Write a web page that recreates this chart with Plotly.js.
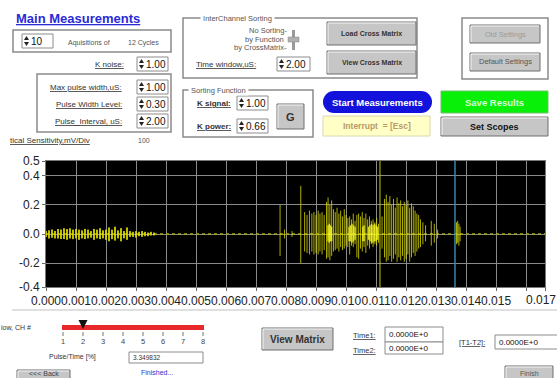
<!DOCTYPE html>
<html><head><meta charset="utf-8">
<script src="https://cdn.plot.ly/plotly-3.0.1.min.js"></script>
<style>html,body{margin:0;padding:0;background:#fff;}#chart{width:557px;height:378px;}</style>
</head><body><div id="chart"></div>
<script>
// ---------- data (time in seconds, amplitude in V) ----------
const xTickVals = [0,0.001,0.002,0.003,0.004,0.005,0.006,0.007,0.008,0.009,0.010,0.011,0.012,0.013,0.014,0.015,0.016,0.01663];
const xTickText = ["0.000","0.001","0.002","0.003","0.004","0.005","0.006","0.007","0.008","0.009","0.010","0.011","0.012","0.013","0.014","0.015","",""];
const xEndLabel = "0.017";
const yTickVals = [0.5,0.4,0.2,0.0,-0.2,-0.363];
const yTickText = ["0.5","0.4","0.2","0.0","-0.2","-0.4"];

// early low-level noise burst
const earlyT  = [0.0000,0.0001,0.0002,0.0003,0.0004,0.0005,0.0006,0.0007,0.0008,0.0009,0.0010,0.0011,0.0012,0.0013,0.0014,0.0015,0.0016,0.0017,0.0018,0.0019,0.0020,0.0021,0.0022,0.0023,0.0024,0.0025,0.0026,0.0027,0.0028,0.0029,0.0030,0.0031,0.0032,0.0033,0.0034,0.0035,0.0036];
const earlyHi = [0.02,0.025,0.03,0.02,0.035,0.03,0.04,0.035,0.04,0.03,0.035,0.03,0.025,0.035,0.03,0.02,0.035,0.03,0.04,0.025,0.03,0.045,0.03,0.05,0.025,0.04,0.02,0.045,0.02,0.015,0.02,0.015,0.02,0.015,0.01,0.015,0.01];
const earlyLo = [-0.02,-0.03,-0.025,-0.03,-0.03,-0.035,-0.035,-0.04,-0.03,-0.035,-0.03,-0.04,-0.03,-0.035,-0.03,-0.025,-0.04,-0.03,-0.035,-0.03,-0.04,-0.05,-0.035,-0.045,-0.03,-0.05,-0.03,-0.04,-0.02,-0.02,-0.025,-0.015,-0.02,-0.015,-0.015,-0.01,-0.01];

// main partial-discharge pulses
const pulseT  = [0.00780,0.00795,0.00820,0.00849,0.00862,0.00870,0.00878,0.00886,0.00893,0.00900,0.00907,0.00913,0.00920,0.00927,0.00935,0.00940,0.00946,0.00952,0.00958,0.00964,0.00970,0.00976,0.00982,0.00988,0.00994,0.01000,0.01006,0.01012,0.01018,0.01024,0.01030,0.01036,0.01042,0.01048,0.01054,0.01060,0.01066,0.01072,0.01078,0.01084,0.01090,0.01096,0.01102,0.01108,0.01120,0.01128,0.01134,0.01140,0.01146,0.01152,0.01158,0.01164,0.01170,0.01176,0.01182,0.01188,0.01194,0.01200,0.01206,0.01212,0.01218,0.01224,0.01230,0.01236,0.01242,0.01248,0.01256,0.01265,0.01284,0.01294,0.01305,0.01368,0.01372,0.01376,0.01380];
const pulseHi = [0.20,0.03,0.02,0.33,0.15,0.13,0.16,0.14,0.15,0.13,0.16,0.14,0.15,0.13,0.22,0.25,0.20,0.23,0.17,0.15,0.18,0.14,0.16,0.12,0.17,0.13,0.11,0.12,0.10,0.14,0.09,0.13,0.14,0.12,0.15,0.11,0.14,0.10,0.12,0.09,0.10,0.08,0.11,0.07,0.12,0.24,0.27,0.22,0.26,0.20,0.24,0.18,0.25,0.21,0.23,0.19,0.22,0.20,0.23,0.18,0.21,0.19,0.16,0.14,0.13,0.10,0.08,0.06,0.09,0.07,0.03,0.08,0.09,0.07,0.05];
const pulseLo = [-0.15,-0.03,-0.02,-0.20,-0.12,-0.13,-0.14,-0.12,-0.14,-0.13,-0.14,-0.12,-0.14,-0.11,-0.17,-0.16,-0.18,-0.15,-0.12,-0.11,-0.10,-0.12,-0.09,-0.11,-0.10,-0.08,-0.09,-0.14,-0.08,-0.09,-0.07,-0.16,-0.17,-0.10,-0.12,-0.09,-0.13,-0.08,-0.10,-0.07,-0.09,-0.07,-0.08,-0.06,-0.10,-0.16,-0.19,-0.18,-0.15,-0.19,-0.17,-0.14,-0.19,-0.16,-0.18,-0.15,-0.19,-0.17,-0.14,-0.19,-0.16,-0.13,-0.15,-0.12,-0.10,-0.09,-0.07,-0.05,-0.08,-0.06,-0.03,-0.07,-0.06,-0.08,-0.05];

// bright dense cores near zero
const coreT  = [0.00940,0.00944,0.00948,0.00952,0.01010,0.01015,0.01020,0.01025,0.01030,0.01056,0.01060,0.01075,0.01080,0.01085,0.01090,0.01095,0.01100,0.01105];
const coreHi = [0.06,0.07,0.06,0.05,0.05,0.06,0.07,0.06,0.05,0.05,0.06,0.05,0.06,0.07,0.06,0.07,0.06,0.05];
const coreLo = [-0.05,-0.06,-0.05,-0.05,-0.05,-0.05,-0.06,-0.05,-0.04,-0.05,-0.05,-0.04,-0.05,-0.06,-0.06,-0.05,-0.05,-0.04];

const cursor1 = 0.01113, cursor2 = 0.01363;
const xMax = 0.01663, yMin = -0.363, yMax = 0.5;
const chNums = [1,2,3,4,5,6,7,8];

// ---------- build traces ----------
function bars(t, hi, lo){ const x=[],y=[]; t.forEach((v,i)=>{x.push(v,v,null);y.push(lo[i],hi[i],null);}); return {x,y}; }
const e = bars(earlyT, earlyHi, earlyLo), p = bars(pulseT, pulseHi, pulseLo), c = bars(coreT, coreHi, coreLo);
const traces = [
  {x:[0,xMax], y:[0,0], mode:'lines', line:{color:'#a8a820', width:1.5, dash:'dot'}, hoverinfo:'skip'},
  {x:e.x, y:e.y, mode:'lines', line:{color:'rgba(225,225,0,0.85)', width:2}, hoverinfo:'skip'},
  {x:p.x, y:p.y, mode:'lines', line:{color:'rgba(220,220,0,0.8)', width:1}, hoverinfo:'skip'},
  {x:c.x, y:c.y, mode:'lines', line:{color:'rgba(255,255,40,0.8)', width:1.4}, hoverinfo:'skip'},
  {x:[cursor1,cursor1], y:[yMin,yMax], mode:'lines', line:{color:'#c8c800', width:1}, hoverinfo:'skip'},
  {x:[cursor2,cursor2], y:[yMin,yMax], mode:'lines', line:{color:'#3a86a8', width:1.5}, hoverinfo:'skip'}
];

// ---------- UI decoration (pixel -> paper) ----------
const L=46, T=161, W=499, H=126;
const X = v => (v-L)/W, Y = v => (T+H-v)/H;
const shapes=[], ann=[];
const FONT='Liberation Sans, Arial, sans-serif';
function rect(x0,y0,x1,y1,fill,line,lw){ shapes.push({type:'rect',xref:'paper',yref:'paper',x0:X(x0),x1:X(x1),y0:Y(y1),y1:Y(y0),fillcolor:fill||'rgba(0,0,0,0)',line:{color:line||'rgba(0,0,0,0)',width:lw==null?1:lw},layer:'above'}); }
function circ(x0,y0,x1,y1,fill){ shapes.push({type:'circle',xref:'paper',yref:'paper',x0:X(x0),x1:X(x1),y0:Y(y1),y1:Y(y0),fillcolor:fill,line:{width:0},layer:'above'}); }
function seg(x0,y0,x1,y1,col,lw){ shapes.push({type:'line',xref:'paper',yref:'paper',x0:X(x0),x1:X(x1),y0:Y(y0),y1:Y(y1),line:{color:col,width:lw||1},layer:'above'}); }
function poly(pts,fill){ shapes.push({type:'path',xref:'paper',yref:'paper',path:'M'+pts.map(q=>X(q[0])+','+Y(q[1])).join(' L')+' Z',fillcolor:fill,line:{width:0},layer:'above'}); }
function txt(x,y,s,size,color,anchor,bg){ const a={xref:'paper',yref:'paper',x:X(x),y:Y(y),text:s,showarrow:false,xanchor:anchor||'left',yanchor:'middle',borderpad:0,font:{size:size,color:color||'#333',family:FONT}}; if(bg) a.bgcolor=bg; ann.push(a); }
function button(x0,y0,x1,y1,label,size,color,ty){ rect(x0,y0,x1,y1,'#c6c6c6','#6e6e6e',1); seg(x0+1,y0+1,x1-1,y0+1,'#f4f4f4',1); seg(x0+1,y0+1,x0+1,y1-1,'#f4f4f4',1); txt((x0+x1)/2,ty==null?(y0+y1)/2:ty,label,size,color,'center'); }
function spinner(x0,y0,x1,y1,val){ rect(x0,y0,x1,y1,'#ffffff','#8c8c8c',1); const m=(y0+y1)/2; poly([[x0+2,m-1],[x0+7,m-1],[x0+4.5,m-5]],'#222'); poly([[x0+2,m+1],[x0+7,m+1],[x0+4.5,m+5]],'#222'); txt(x0+8,m+0.5,val,10,'#111','left'); }

// x-axis end label (LabVIEW shows the rounded maximum at the right edge)
ann.push({xref:'x',yref:'paper',x:xMax,y:Y(299.5),text:xEndLabel,showarrow:false,xanchor:'right',xshift:12,yanchor:'middle',borderpad:0,font:{size:12,color:'#222',family:FONT}});

// title
txt(15,18,'<b><u>Main Measurements</u></b>',13,'#2a2ad6','left');
// acquisitions box
rect(13,30,171,52,null,'#8a8a8a',1.5);
spinner(22,34,53,48,'10');
txt(67,43,'Aquisitions of',7,'#555','left');
txt(127,43,'12 Cycles',7,'#555','left');
txt(125,64,'<u>K noise:</u>',8,'#333','right');
spinner(137,57,168,71,'1.00');
rect(37,74,171,132,null,'#8a8a8a',1.5);
txt(123,87,'<u>Max pulse width,uS:</u>',8,'#333','right');
spinner(137,80,168,94,'1.00');
txt(123,104,'<u>Pulse Width Level:</u>',8,'#333','right');
spinner(137,97,168,111,'0.30');
txt(123,121,'<u>Pulse_Interval, uS:</u>',8,'#333','right');
spinner(137,114,168,128,'2.00');
txt(9,140,'<u>tical Sensitivity,mV/Div</u>',8,'#333','left');
txt(137,140,'100',7,'#555','left');

// InterChannel sorting
rect(183,18,417,78,null,'#8a8a8a',1.5);
txt(200,18,' InterChannel Sorting ',7.5,'#555','left','#ffffff');
txt(288,30,'No Sorting-',7.5,'#555','right');
txt(285,39,'by Function',7.5,'#555','right');
txt(288,47,'by CrossMatrix-',7.5,'#555','right');
rect(292,30,295,50,'#9a9a9a');
rect(288,37,299,42,'#b0b0b0','#808080',0.5);
txt(195,64,'<u>Time window,uS:</u>',8,'#333','left');
spinner(277,57,310,71,'2.00');
button(327,22,416,45,'<b>Load Cross Matrix</b>',7,'#333');
button(327,51,416,74,'<b>View Cross Matrix</b>',7,'#333');

// Sorting function
rect(183,90,313,137,null,'#8a8a8a',1.5);
txt(188,90,' Sorting Function ',7.5,'#555','left','#ffffff');
txt(196,103,'<b><u>K signal:</u></b>',8,'#333','left');
spinner(237,96,268,110,'1.00');
txt(196,126,'<b><u>K power:</u></b>',8,'#333','left');
spinner(237,119,268,133,'0.66');
button(277,104,304,129,'<b>G</b>',11,'#333');

// start / interrupt
circ(323,91,345,113,'#1212dc'); circ(410,91,432,113,'#1212dc'); rect(334,91,421,113,'#1212dc');
txt(377.5,102,'<b>Start Measurements</b>',9.5,'#ffffff','center');
rect(323,116,430,136,'#ffffc6','#d8d8b0',1);
txt(376.5,126,'<b>Interrupt  = [Esc]</b>',8.5,'#b89a66','center');

// settings
rect(462,18,548,79,null,'#8a8a8a',1.5);
button(470,25,540,43,'Old Settings',7.5,'#9a9a9a');
button(470,53,540,71,'Default Settings',7.5,'#555');
rect(441,91,548,113,'#08f008','#70c070',1);
txt(494.5,102,'<b>Save Results</b>',9.5,'#d6ffd6','center');
button(441,117,548,136,'<b>Set Scopes</b>',9,'#111');

// bottom panel
seg(12,310,557,310,'#d6d6d6',1.5);
txt(0,327,'iow, CH #',7,'#333','left');
rect(62,325,204,330,'#e8282a');
chNums.forEach((n,i)=>{ const xx=63+i*20; seg(xx,332,xx,336,'#777',1); txt(xx,341.5,String(n),7.5,'#444','center'); });
poly([[78.5,320],[87.5,320],[83,329]],'#111');
txt(48,357,'Pulse/Time [%]',7,'#333','left');
rect(129,352,203,363,'#ffffff','#8c8c8c',1);
txt(132,357.5,'3.349832',6.5,'#333','left');
button(17,370,70,386,'&lt;&lt;&lt; Back',7,'#444',373.5);
txt(140,372.5,'Finished...',7,'#3030d0','left');
button(262,328,333,350,'<b>View Matrix</b>',10,'#333');
txt(352,335,'<u>Time1:</u>',7.5,'#333','left');
txt(352,350,'<u>Time2:</u>',7.5,'#333','left');
rect(385,327,443,342,'#ffffff','#8c8c8c',1);
rect(385,342,443,354,'#ffffff','#8c8c8c',1);
txt(388,334.5,'0.0000E+0',8,'#111','left');
txt(388,348,'0.0000E+0',8,'#111','left');
txt(458,342,'<u>[T1-T2]:</u>',7.5,'#333','left');
rect(495,335,558,349,'#ffffff','#8c8c8c',1);
txt(498,342,'0.0000E+0',8,'#111','left');
button(505,366,553,386,'Finish',7,'#555',373.5);

const layout = {
  width:557, height:378, margin:{l:L,r:557-L-W,t:T,b:378-T-H,pad:0},
  paper_bgcolor:'#ffffff', plot_bgcolor:'#000000', showlegend:false,
  font:{family:FONT,size:12,color:'#222'},
  xaxis:{range:[0,xMax], tickmode:'array', tickvals:xTickVals, ticktext:xTickText, tickangle:0, showgrid:true, gridcolor:'#8a8a8a', gridwidth:1,
         zeroline:false, ticks:'outside', ticklen:3, tickcolor:'#666', showline:true, linecolor:'#777', mirror:true, automargin:false,
         tickfont:{size:12,color:'#222',family:FONT}, fixedrange:true},
  yaxis:{range:[yMin,yMax], tickmode:'array', tickvals:yTickVals, ticktext:yTickText, showgrid:true, gridcolor:'#8a8a8a', gridwidth:1,
         zeroline:false, ticks:'outside', ticklen:3, tickcolor:'#666', showline:true, linecolor:'#777', mirror:true, automargin:false,
         tickfont:{size:12,color:'#222',family:FONT}, fixedrange:true},
  shapes:shapes, annotations:ann
};
Plotly.newPlot('chart', traces, layout, {displayModeBar:false, staticPlot:true});
</script></body></html>
